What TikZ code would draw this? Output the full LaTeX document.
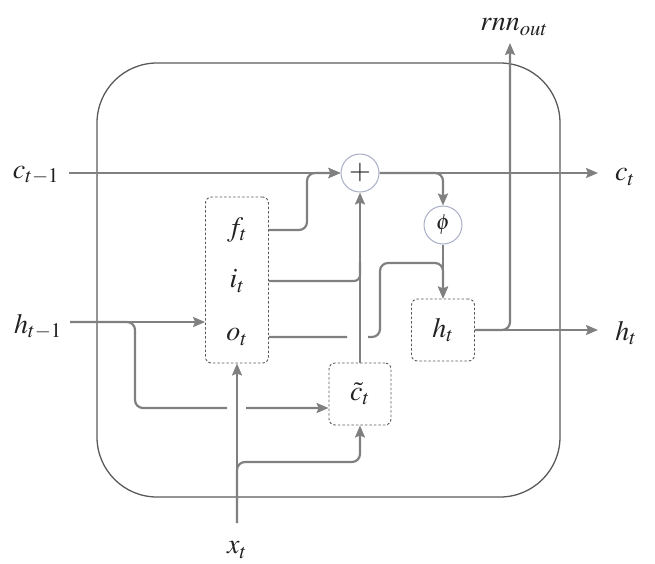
\documentclass[tikz,border=0pt]{standalone}
\usepackage{mathptmx}
\usepackage{tikz}
\usetikzlibrary{positioning,arrows.meta}
\usepackage{xcolor}
\definecolor{wire}{HTML}{808080}
\definecolor{frame}{HTML}{5A5A5A}
\definecolor{ring}{HTML}{A9AEC6}
\definecolor{ink}{HTML}{222222}

\begin{document}
\begin{tikzpicture}[x=1pt,y=-1pt,
      font=\fontsize{28}{30}\selectfont,
      every node/.style={text=ink},
      conn/.style={draw=wire,line width=2.2pt,-{Stealth[length=12pt,width=10pt,inset=2pt]}},
      plain/.style={draw=wire,line width=2.2pt},
      gatebox/.style={draw=frame,dashed,dash pattern=on 2.5pt off 2pt,line width=0.9pt,rounded corners=6pt,inner sep=0pt},
      op/.style={circle,draw=ring,line width=1pt,minimum size=38pt,inner sep=0pt,fill=white}]

    \useasboundingbox (0,0) rectangle (655,563);

    \draw[frame,line width=1.3pt,rounded corners=60pt] (97,63) rectangle (560,497);

    \node[gatebox,minimum width=63pt,minimum height=166pt] (gates) at (237,280) {};
    \node (ft) at (237,230) {$f_t$};
    \node (it) at (237,281) {$i_t$};
    \node (ot) at (237,337) {$o_t$};

    \node[gatebox,minimum width=63pt,minimum height=62pt] (ht) at (443,330) {$h_t$};
    \node[gatebox,minimum width=62pt,minimum height=62pt] (ct) at (360,394) {$\tilde{c}_t$};

    \node[op] (plus) at (360,173) {$+$};
    \node[op,font=\fontsize{22}{24}\selectfont] (phi) at (443,225) {$\phi$};

    \node (cprev)  at (36,175)  {$c_{t-1}$};
    \node (hprev)  at (38,327)  {$h_{t-1}$};
    \node (cnext)  at (625,177) {$c_t$};
    \node (hnext)  at (626,333) {$h_t$};
    \node (xt)     at (237,550) {$x_t$};
    \node (rnnout) at (514,27)  {$rnn_{out}$};

    \coordinate (cin)  at (69,173);
    \coordinate (cout) at (598,173);
    \coordinate (hin)  at (70,322);
    \coordinate (hout) at (598,330);
    \coordinate (xin)  at (237,523);
    \coordinate (rout) at (510,43);

    \draw[conn] (cin) -- (plus.west);
    \draw[conn] (plus.east) -- (cout);
    \draw[conn,rounded corners=8pt] (plus.east) -- (443,173) -- (phi.north);
    \draw[conn] (phi.south) -- (ht.north);

    \draw[conn,rounded corners=8pt] (gates.east |- ft) -- (307,230) -- (307,173) -- (plus.west);
    \draw[plain,rounded corners=6pt] (gates.east |- it) -- (360,281) -- (360,262);
    \draw[conn,rounded corners=8pt] (gates.east |- ot) -- (347,337) (368,337) -- (380,337) -- (380,263) -- (443,263) -- (ht.north);
    \draw[conn] (ct.north) -- (plus.south);

    \draw[conn] (hin) -- (gates.west |- hin);
    \draw[conn,rounded corners=8pt] (hin) -- (135,322) -- (135,408) -- (227,408) (246,408) -- ([yshift=-14pt]ct.west);

    \draw[conn] (xin) -- (gates.south);
    \draw[conn,rounded corners=8pt] (xin) -- (237,462) -- (360,462) -- (ct.south);

    \draw[conn] (ht.east) -- (hout);
    \draw[conn,rounded corners=8pt] (ht.east) -- (510,330) -- (rout);
  \end{tikzpicture}
\end{document}
